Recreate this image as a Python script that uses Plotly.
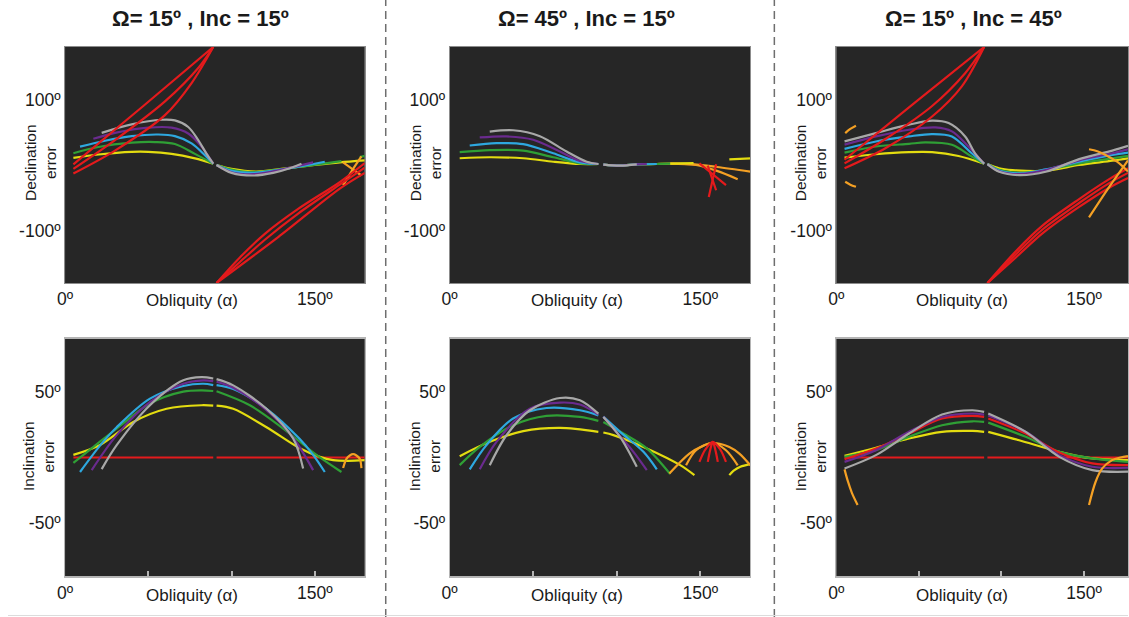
import plotly.graph_objects as go

FONT = "Liberation Sans, Arial, sans-serif"
TXT = "#1a1a1a"
RED = "#e41a1c"
ORANGE = "#f4a024"
YELLOW = "#e3dc10"
GREEN = "#2f9f35"
CYAN = "#2ea8df"
PURPLE = "#6a2b8e"
GRAY = "#a8a8a8"

titles = ["Ω= 15º , Inc = 15º", "Ω= 45º , Inc = 15º", "Ω= 15º , Inc = 45º"]
dec_ticks = [-100, 100]
dec_ticktext = ["-100º", "100º"]
inc_ticks = [-50, 50]
inc_ticktext = ["-50º", "50º"]
x_ticks_top = [0, 150]
x_ticktext_top = ["0º", "150º"]
x_ticks_bot = [0, 50, 100, 150]
x_ticktext_bot = ["0º", "", "", "150º"]

# ================= Panel 1 : Ω=15, Inc=15 — declination error =================
d1_yellow_L = ([5, 20, 40, 50, 64, 78, 89], [11, 16, 20, 20, 17, 10, 2])
d1_green_L = ([5, 20, 40, 54, 66, 78, 89], [18, 27.5, 34, 35, 32, 17, 2])
d1_cyan_L = ([9, 24, 40, 56, 66, 76, 84, 89], [28, 37, 44, 46.5, 44, 33, 15, 2])
d1_purple_L = ([17, 30, 50, 64, 74, 82, 89], [40, 49, 57, 57, 48, 28, 2])
d1_gray_L = ([22, 40, 58, 66, 74, 80, 85, 89], [49, 62, 69, 68, 58, 38, 17, 2])
d1_yellow_R = ([91, 100, 115, 130, 150, 165, 180], [0, -6, -10, -6, 0, 4, 7])
d1_green_R = ([91, 100, 113, 140, 166], [0, -7, -11, -3, 6])
d1_cyan_R = ([91, 100, 113, 135, 156], [0, -9, -12, -5, 5])
d1_purple_R = ([91, 100, 113, 130, 149], [0, -11, -14, -7, 4])
d1_gray_R = ([91, 100, 113, 125, 135, 142], [0, -12, -16, -12, -5, 2])
d1_green_tail = ([177, 180], [12, 14])
d1_red1_L = ([5, 47, 89], [1, 90, 180])
d1_red2_L = ([5, 30, 60, 80, 89], [-6, 38, 97, 148, 180])
d1_red3_L = ([5, 30, 60, 76, 89], [-13, 22, 76, 125, 180])
d1_red1_R = ([91, 128, 165, 180], [-180, -110, -36, -12])
d1_red2_R = ([91, 105, 120, 140, 165, 180], [-180, -148, -114, -74, -30, -4])
d1_red3_R = ([91, 105, 120, 140, 165, 180], [-180, -141, -105, -67, -26, 3])
d1_orange1 = ([167, 172, 178], [4, -5, -16])
d1_orange2 = ([167, 172, 178], [-31, -10, 13])

# ================= Panel 1 — inclination error =================
i1_red_L = ([5, 89], [0, 0])
i1_red_R = ([91, 180], [0, 0])
i1_yellow_L = ([5, 21, 41, 61, 82, 89], [2, 9.5, 27, 37, 39.7, 39.4])
i1_yellow_R = ([91, 101, 121, 141, 153, 161, 170, 180], [39.4, 37, 23, 7, 0.5, -2, -2.5, -2])
i1_green_L = ([5, 18, 31, 51, 71, 82, 89], [-4, 9, 22, 41, 50, 51, 50.5])
i1_green_R = ([91, 111, 131, 151, 166], [50.3, 39.7, 22, 2, -11])
i1_cyan_L = ([9, 21, 31, 51, 71, 83, 89], [-11, 9, 23, 44.7, 54.3, 56, 55])
i1_cyan_R = ([91, 101, 121, 141, 149, 156], [55, 52, 37, 14, 2, -11])
i1_purple_L = ([16, 31, 51, 71, 83, 89], [-9.6, 17, 42, 56, 58.6, 58])
i1_purple_R = ([91, 101, 121, 137, 149], [57.5, 53, 36, 15, -9.6])
i1_gray_L = ([22, 31, 51, 71, 82, 89], [-8.8, 9.4, 39.7, 58.6, 61, 60])
i1_gray_R = ([91, 101, 121, 137, 143], [59.5, 54.8, 37, 14.4, -8.3])
i1_orange = ([167, 169, 171, 173, 175, 177, 178], [-8, -1, 1.5, 2.5, 1.5, -1, -8])

# ================= Panel 2 : Ω=45, Inc=15 — declination error =================
d2_yellow_L = ([6, 24, 44, 62, 78, 89], [10.3, 11.8, 10.3, 5, 1.5, 1.5])
d2_green_L = ([6, 24, 44, 62, 78, 89], [19.5, 22.6, 22, 11.8, 2.6, 1.5])
d2_cyan_L = ([12, 28, 44, 62, 78, 89], [29.7, 33.3, 31.8, 17.9, 4, 1.5])
d2_purple_L = ([18, 34, 50, 66, 78, 89], [42, 43.6, 38.5, 20.5, 6, 1.5])
d2_gray_L = ([24, 38, 54, 70, 82, 89], [51, 53, 44, 20.5, 5, 1.5])
d2_yellow_R = ([92, 102, 112, 124, 132, 146], [0.5, -1, 1, 1.5, 2, 3])
d2_green_R = ([92, 102, 112, 124, 132], [0.5, -1, 1, 1.5, 2])
d2_cyan_R = ([92, 102, 112, 124], [0.5, -1, 1, 1.5])
d2_purple_R = ([92, 102, 112, 118], [0.5, -1, 1, 1.2])
d2_gray_R = ([92, 102, 112], [0.5, -1, 1])
d2_yellow_tail = ([167.4, 180], [8.7, 10.2])
d2_orange1 = ([132, 146, 160, 180], [2, 1, -3, -10])
d2_orange2 = ([132, 147.5, 160, 172.4], [2, 0, -9, -21.6])
d2_red1 = ([149.5, 157, 165.4], [2.5, -13, -30.8])
d2_red2 = ([159.5, 157.3, 155.1], [1, -24, -48.8])
d2_red3 = ([154.5, 157, 159.5], [-1, -20, -38.5])

# ================= Panel 2 — inclination error =================
i2_yellow_L = ([6, 24, 44, 66, 89], [1, 11.9, 20, 22.5, 19.5])
i2_yellow_R = ([92, 98, 118, 138, 146.5], [19, 17, 6.9, -5.8, -13.4])
i2_green_L = ([6, 18, 38, 58, 78, 89], [-5.8, 8.1, 24.5, 31.6, 30.8, 27.8])
i2_green_R = ([92, 104, 118, 132], [27, 18.2, 6.9, -12.6])
i2_cyan_L = ([12, 22, 38, 58, 78, 89], [-9, 9.4, 29.6, 37.6, 35.9, 32])
i2_cyan_R = ([92, 102, 116, 124], [31, 19.5, 4.3, -9])
i2_purple_L = ([18, 28, 48, 66, 78, 89], [-9, 11.9, 37.1, 41.7, 40.2, 32.6])
i2_purple_R = ([92, 98, 110, 118], [31, 22, 4.3, -9.6])
i2_gray_L = ([24, 34, 48, 66, 78, 89], [-5.8, 16.9, 35.9, 45.2, 43.5, 33.3])
i2_gray_R = ([92, 102, 112], [30.8, 15.7, -7])
i2_yellow_tail = ([167.4, 170, 174, 180], [-13.4, -10, -7, -5])
i2_orange1 = ([131.5, 143.5, 151.5, 157.5, 167.4, 173.4, 180], [-12.2, 3, 8.8, 11, 8, 3, -5.9])
i2_orange2 = ([141.5, 147.5, 157.5, 165.4, 172.4], [-5.9, 5.5, 11, 5.5, -5.9])
i2_red1 = ([149.5, 153, 157.5, 162, 165.4], [-3.3, 6, 11.8, 6, -3.3])
i2_red2 = ([154.5, 156, 157.5, 159, 160.5], [-3.3, 6, 11.8, 6, -3.3])

# ================= Panel 3 : Ω=15, Inc=45 — declination error =================
d3_yellow_L = ([5, 24, 44, 58, 74, 89.5], [11.2, 16.4, 19.5, 19.5, 13.8, 2])
d3_green_L = ([5, 24, 44, 54, 70, 82, 89.5], [18.9, 28.2, 32.3, 34.4, 30.8, 12.8, 2])
d3_cyan_L = ([5, 24, 44, 58, 70, 82, 89.5], [24.6, 35.9, 43.6, 47.2, 43.6, 17.9, 2])
d3_purple_L = ([5, 24, 44, 60, 70, 80, 89.5], [31, 43.6, 53.8, 57.4, 51.3, 28.2, 2])
d3_gray_L = ([5, 24, 44, 58, 68, 78, 84, 89.5], [36, 48.7, 61.5, 67.7, 64, 43.6, 17.9, 2])
d3_yellow_R = ([91.5, 98.6, 106.7, 126.8, 147, 167.1, 176.6], [1.5, -5, -7.7, -8.7, 0, 6.6, 10.2])
d3_green_R = ([91.5, 98.6, 110.7, 126.8, 147, 167.1, 176.6], [1.5, -7.5, -11.8, -7.7, 2.5, 10.2, 14])
d3_cyan_R = ([91.5, 98.6, 110.7, 126.8, 147, 167.1, 176.6], [1.5, -8.5, -12.9, -6.7, 5.1, 15.4, 19])
d3_purple_R = ([91.5, 98.6, 110.7, 126.8, 147, 167.1, 176.6], [1.5, -9.5, -14, -7.7, 7, 17.9, 24])
d3_gray_R = ([91.5, 98.6, 110.7, 126.8, 147, 167.1, 176.6], [1.5, -10.3, -15.4, -10.3, 9, 22, 29.2])
d3_red1_L = ([5, 47, 89.5], [8, 94, 180])
d3_red2_L = ([5, 30, 58, 78, 89.5], [2.5, 40, 90, 140, 180])
d3_red3_L = ([5, 30, 58, 76, 89.5], [-5, 26, 74, 120, 180])
d3_red1_R = ([91.5, 110, 125, 147, 165, 176.6], [-180, -138, -104, -64, -35, -20])
d3_red2_R = ([91.5, 110, 125, 147, 165, 176.6], [-180, -133, -98, -58, -28, -12])
d3_red3_R = ([91.5, 110, 125, 147, 165, 176.6], [-180, -128, -92, -52, -22, -5])
d3_orange1 = ([5.4, 8.5, 11.9], [48.7, 55, 60])
d3_orange2 = ([5.4, 8.5, 11.9], [-25.6, -30, -33.3])
d3_orange3 = ([153, 158, 163, 170, 176.6], [24, 21, 15.4, 5, -10])
d3_orange4 = ([153, 164, 176.6], [-80, -38, 7])

# ================= Panel 3 — inclination error =================
i3_redflat_L = ([5, 89.5], [0, 0])
i3_redflat_R = ([91.5, 176.6], [0, 0])
i3_yellow_L = ([5, 24, 44, 64, 82.5, 89.5], [1.3, 7.4, 14.4, 19.5, 20.2, 19.5])
i3_yellow_R = ([92, 110.7, 135, 155, 176.6], [19.5, 13.1, 4.3, -0.7, -2])
i3_green_L = ([5, 24, 44, 64, 82.5, 89.5], [0.5, 5.6, 15.7, 24.5, 27.5, 27])
i3_green_R = ([92, 114.7, 135, 155, 176.6], [26.5, 15.7, 4.3, -0.7, -3.3])
i3_red_L = ([5, 24, 44, 64, 82.5, 89.5], [-1.3, 6.8, 18.2, 29.6, 31.6, 30.8])
i3_red_R = ([92, 114.7, 135, 155, 176.6], [29.6, 18.2, 3.8, -4.5, -5.8])
i3_purple_L = ([5, 24, 44, 64, 82.5, 89.5], [-3.3, 5.6, 19.5, 30.8, 33.4, 32.6])
i3_purple_R = ([92, 114.7, 135, 155, 176.6], [32, 19.5, 1.8, -7, -7.8])
i3_gray_L = ([5, 24, 44, 64, 82.5, 89.5], [-8.3, 1.8, 18.2, 32.6, 35.9, 34.6])
i3_gray_R = ([92, 114.7, 135, 155, 176.6], [33.4, 19.5, 0.5, -9.6, -10.8])
i3_orange1 = ([5, 7, 9.5, 12.9], [-9, -18, -27, -36])
i3_orange2 = ([153, 157, 161, 167, 172, 176.6], [-36, -18.4, -8.3, -2, 0, 1])

# drawing lists: (axis number, colour, series, smooth)
draw = [
    (1, YELLOW, d1_yellow_L, True), (1, GREEN, d1_green_L, True), (1, CYAN, d1_cyan_L, True),
    (1, PURPLE, d1_purple_L, True), (1, GRAY, d1_gray_L, True),
    (1, YELLOW, d1_yellow_R, True), (1, GREEN, d1_green_R, True), (1, CYAN, d1_cyan_R, True),
    (1, PURPLE, d1_purple_R, True), (1, GRAY, d1_gray_R, True), (1, GREEN, d1_green_tail, False),
    (1, ORANGE, d1_orange1, True), (1, ORANGE, d1_orange2, True),
    (1, RED, d1_red1_L, True), (1, RED, d1_red2_L, True), (1, RED, d1_red3_L, True),
    (1, RED, d1_red1_R, True), (1, RED, d1_red2_R, True), (1, RED, d1_red3_R, True),
    (2, YELLOW, d2_yellow_L, True), (2, GREEN, d2_green_L, True), (2, CYAN, d2_cyan_L, True),
    (2, PURPLE, d2_purple_L, True), (2, GRAY, d2_gray_L, True),
    (2, ORANGE, d2_orange1, True), (2, ORANGE, d2_orange2, True),
    (2, YELLOW, d2_yellow_R, True), (2, GREEN, d2_green_R, True), (2, CYAN, d2_cyan_R, True),
    (2, PURPLE, d2_purple_R, True), (2, GRAY, d2_gray_R, True), (2, YELLOW, d2_yellow_tail, False),
    (2, RED, d2_red1, True), (2, RED, d2_red2, True), (2, RED, d2_red3, True),
    (3, YELLOW, d3_yellow_L, True), (3, GREEN, d3_green_L, True), (3, CYAN, d3_cyan_L, True),
    (3, PURPLE, d3_purple_L, True), (3, GRAY, d3_gray_L, True),
    (3, YELLOW, d3_yellow_R, True), (3, GREEN, d3_green_R, True), (3, CYAN, d3_cyan_R, True),
    (3, PURPLE, d3_purple_R, True), (3, GRAY, d3_gray_R, True),
    (3, ORANGE, d3_orange1, True), (3, ORANGE, d3_orange2, True),
    (3, RED, d3_red1_L, True), (3, RED, d3_red2_L, True), (3, RED, d3_red3_L, True),
    (3, RED, d3_red1_R, True), (3, RED, d3_red2_R, True), (3, RED, d3_red3_R, True),
    (3, ORANGE, d3_orange3, True), (3, ORANGE, d3_orange4, True),
    (4, RED, i1_red_L, False), (4, RED, i1_red_R, False),
    (4, YELLOW, i1_yellow_L, True), (4, YELLOW, i1_yellow_R, True),
    (4, GREEN, i1_green_L, True), (4, GREEN, i1_green_R, True),
    (4, CYAN, i1_cyan_L, True), (4, CYAN, i1_cyan_R, True),
    (4, PURPLE, i1_purple_L, True), (4, PURPLE, i1_purple_R, True),
    (4, GRAY, i1_gray_L, True), (4, GRAY, i1_gray_R, True),
    (4, ORANGE, i1_orange, True),
    (5, YELLOW, i2_yellow_L, True), (5, YELLOW, i2_yellow_R, True),
    (5, GREEN, i2_green_L, True), (5, GREEN, i2_green_R, True),
    (5, CYAN, i2_cyan_L, True), (5, CYAN, i2_cyan_R, True),
    (5, PURPLE, i2_purple_L, True), (5, PURPLE, i2_purple_R, True),
    (5, GRAY, i2_gray_L, True), (5, GRAY, i2_gray_R, True),
    (5, YELLOW, i2_yellow_tail, True),
    (5, ORANGE, i2_orange1, True), (5, ORANGE, i2_orange2, True),
    (5, RED, i2_red1, True), (5, RED, i2_red2, True),
    (6, RED, i3_redflat_L, False), (6, RED, i3_redflat_R, False),
    (6, YELLOW, i3_yellow_L, True), (6, YELLOW, i3_yellow_R, True),
    (6, GREEN, i3_green_L, True), (6, GREEN, i3_green_R, True),
    (6, RED, i3_red_L, True), (6, RED, i3_red_R, True),
    (6, PURPLE, i3_purple_L, True), (6, PURPLE, i3_purple_R, True),
    (6, GRAY, i3_gray_L, True), (6, GRAY, i3_gray_R, True),
    (6, ORANGE, i3_orange1, True), (6, ORANGE, i3_orange2, True),
]

fig = go.Figure()
for ax, col, (a, v), smooth in draw:
    sfx = "" if ax == 1 else str(ax)
    fig.add_trace(go.Scatter(
        x=a, y=v, mode="lines", xaxis="x" + sfx, yaxis="y" + sfx,
        line=dict(color=col, width=2.2, shape="spline" if smooth else "linear", smoothing=0.9),
        hoverinfo="skip", showlegend=False))

W, H = 1129, 617


def PX(p):
    # horizontal placement correction observed in the rendered page
    return (p - 7.9) / 0.993


x_dom = [[PX(65) / W, PX(365) / W], [PX(450) / W, PX(751) / W], [PX(837) / W, 1.0]]
x_rng = [[0, 180], [0, 180], [0, 176.6]]
y_top = [(H - 283) / H, (H - 47) / H]
y_bot = [(H - 576) / H, (H - 339) / H]
tickfont = dict(family=FONT, size=17.5, color=TXT)

layout = dict(width=W, height=H, margin=dict(l=0, r=0, t=0, b=0),
              paper_bgcolor="white", plot_bgcolor="#262626", showlegend=False)
for i in range(6):
    n = i + 1
    sfx = "" if n == 1 else str(n)
    col = i % 3
    top = i < 3
    xa = dict(domain=x_dom[col], range=x_rng[col], anchor="y" + sfx,
              showgrid=False, zeroline=False, showline=True, mirror=True,
              linecolor="#b4b4b4" if not top else "#8c8c8c", linewidth=1.5 if not top else 1,
              tickfont=tickfont, fixedrange=True)
    if top:
        xa.update(tickmode="array", tickvals=x_ticks_top, ticktext=x_ticktext_top, ticks="")
    else:
        xa.update(tickmode="array", tickvals=x_ticks_bot, ticktext=x_ticktext_bot,
                  ticks="inside", ticklen=5, tickwidth=1.5, tickcolor="#b4b4b4")
    ya = dict(domain=y_top if top else y_bot, range=[-180, 180] if top else [-90, 90],
              anchor="x" + sfx, showgrid=False, zeroline=False, showline=True, mirror=True,
              linecolor="#8c8c8c" if top else "#b4b4b4", linewidth=1, ticks="",
              tickmode="array",
              tickvals=dec_ticks if top else inc_ticks,
              ticktext=dec_ticktext if top else inc_ticktext,
              tickfont=tickfont, fixedrange=True)
    layout["xaxis" + sfx] = xa
    layout["yaxis" + sfx] = ya
fig.update_layout(**layout)

ann = []
title_x = [201, 587, 974]
ylab_x = [[40, 39], [425.5, 425.5], [811, 812]]
for c in range(3):
    ann.append(dict(text="<b>" + titles[c] + "</b>", x=PX(title_x[c]) / W, y=(H - 18) / H,
                    xref="paper", yref="paper", showarrow=False, xanchor="center", yanchor="middle",
                    font=dict(family=FONT, size=22, color=TXT)))
    for r, (lab, yc, xlab_y) in enumerate([("Declination<br>error", 163, 300), ("Inclination<br>error", 456, 595)]):
        ann.append(dict(text=lab, x=PX(ylab_x[c][r]) / W, y=(H - yc) / H, xref="paper", yref="paper",
                        showarrow=False, textangle=-90, xanchor="center", yanchor="middle",
                        font=dict(family=FONT, size=15.5, color=TXT)))
        ax_n = c + 1 + 3 * r
        sfx = "" if ax_n == 1 else str(ax_n)
        ann.append(dict(text="Obliquity (α)", x=76, y=(H - xlab_y) / H, xref="x" + sfx, yref="paper",
                        showarrow=False, xanchor="center", yanchor="middle",
                        font=dict(family=FONT, size=17, color=TXT)))
fig.update_layout(annotations=ann)

shapes = []
for xs in [386, 775]:
    shapes.append(dict(type="line", xref="paper", yref="paper", x0=PX(xs) / W, x1=PX(xs) / W, y0=0, y1=1,
                       line=dict(color="#6e6e6e", width=1.5, dash="8px,5px")))
shapes.append(dict(type="line", xref="paper", yref="paper", x0=0, x1=1, y0=1.5 / H, y1=1.5 / H,
                   line=dict(color="#dcdcdc", width=1)))
fig.update_layout(shapes=shapes)

POST = ("document.body.style.margin='0';document.body.style.overflow='hidden';")

fig.write_html("out.html", config={"displayModeBar": False}, post_script=POST)
